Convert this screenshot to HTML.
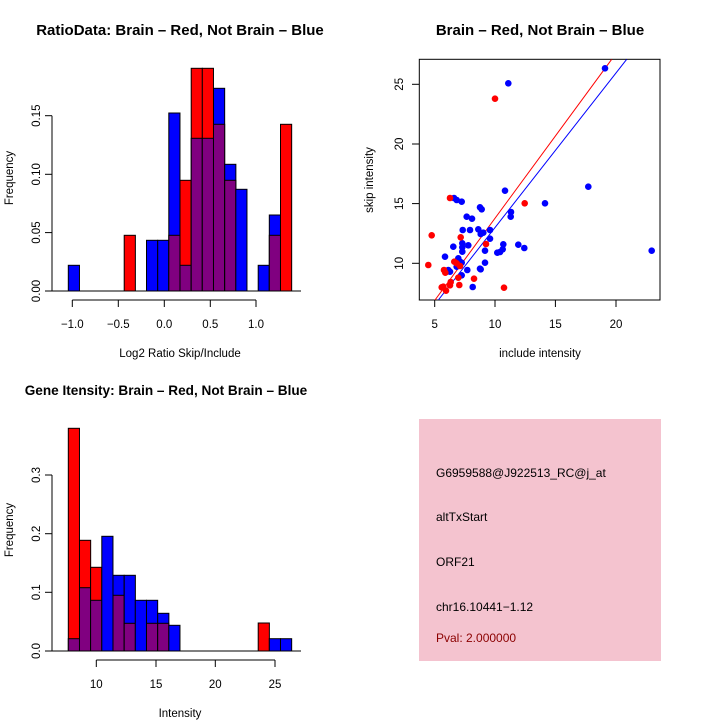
<!DOCTYPE html>
<html><head><meta charset="utf-8"><style>body{margin:0;background:#fff}svg{display:block}text{font-family:"Liberation Sans",sans-serif}</style></head><body>
<svg width="720" height="720" viewBox="0 0 720 720" xmlns="http://www.w3.org/2000/svg">
<rect width="720" height="720" fill="#fff"/>
<text x="180" y="35" font-size="15" font-weight="bold" text-anchor="middle">RatioData: Brain – Red, Not Brain – Blue</text>
<text x="540" y="35" font-size="15" font-weight="bold" text-anchor="middle">Brain – Red, Not Brain – Blue</text>
<text x="166" y="395" font-size="13.6" font-weight="bold" text-anchor="middle">Gene Itensity: Brain – Red, Not Brain – Blue</text>

<g stroke="#000" stroke-width="1">
<rect x="68.3" y="265.3" width="11.17" height="25.7" fill="#00f"/>
<rect x="124.2" y="235.3" width="11.17" height="55.7" fill="#f00"/>
<rect x="146.5" y="240.3" width="11.17" height="50.7" fill="#00f"/>
<rect x="157.7" y="240.3" width="11.17" height="50.7" fill="#00f"/>
<rect x="168.8" y="113" width="11.17" height="178" fill="#00f"/>
<rect x="168.8" y="235.3" width="11.17" height="55.7" fill="#800080"/>
<rect x="180" y="180.3" width="11.17" height="110.7" fill="#f00"/>
<rect x="180" y="265.3" width="11.17" height="25.7" fill="#800080"/>
<rect x="191.2" y="68.3" width="11.17" height="222.7" fill="#f00"/>
<rect x="191.2" y="138.3" width="11.17" height="152.7" fill="#800080"/>
<rect x="202.3" y="68.3" width="11.17" height="222.7" fill="#f00"/>
<rect x="202.3" y="138.3" width="11.17" height="152.7" fill="#800080"/>
<rect x="213.5" y="88.3" width="11.17" height="202.7" fill="#00f"/>
<rect x="213.5" y="124.3" width="11.17" height="166.7" fill="#800080"/>
<rect x="224.7" y="164.3" width="11.17" height="126.7" fill="#00f"/>
<rect x="224.7" y="180.3" width="11.17" height="110.7" fill="#800080"/>
<rect x="235.8" y="189.3" width="11.17" height="101.7" fill="#00f"/>
<rect x="258.2" y="265.3" width="11.17" height="25.7" fill="#00f"/>
<rect x="269.3" y="215" width="11.17" height="76" fill="#00f"/>
<rect x="269.3" y="235.3" width="11.17" height="55.7" fill="#800080"/>
<rect x="280.5" y="124.3" width="11.17" height="166.7" fill="#f00"/>
<line x1="52" y1="291" x2="301" y2="291"/>
<line x1="52" y1="115.7" x2="52" y2="291"/>
<line x1="45" y1="291" x2="52" y2="291"/><line x1="45" y1="232.6" x2="52" y2="232.6"/><line x1="45" y1="174.3" x2="52" y2="174.3"/><line x1="45" y1="115.7" x2="52" y2="115.7"/>
<line x1="72.3" y1="300" x2="256" y2="300"/>
<line x1="72.3" y1="300" x2="72.3" y2="307"/><line x1="118.3" y1="300" x2="118.3" y2="307"/><line x1="164.3" y1="300" x2="164.3" y2="307"/><line x1="210.3" y1="300" x2="210.3" y2="307"/><line x1="256" y1="300" x2="256" y2="307"/>
</g>
<g font-size="11.5" text-anchor="middle">
<text transform="translate(40,291) rotate(-90)">0.00</text>
<text transform="translate(40,232.6) rotate(-90)">0.05</text>
<text transform="translate(40,174.3) rotate(-90)">0.10</text>
<text transform="translate(40,115.7) rotate(-90)">0.15</text>
<text x="72.3" y="328">−1.0</text><text x="118.3" y="328">−0.5</text><text x="164.3" y="328">0.0</text><text x="210.3" y="328">0.5</text><text x="256" y="328">1.0</text>
<text x="180" y="357">Log2 Ratio Skip/Include</text>
<text transform="translate(13,178) rotate(-90)">Frequency</text>
</g>

<rect x="419.3" y="59.3" width="240.7" height="240.7" fill="none" stroke="#000"/>
<g stroke="#000">
<line x1="434.7" y1="300" x2="434.7" y2="307"/><line x1="495" y1="300" x2="495" y2="307"/><line x1="555.4" y1="300" x2="555.4" y2="307"/><line x1="616" y1="300" x2="616" y2="307"/>
<line x1="412" y1="263.3" x2="419.3" y2="263.3"/><line x1="412" y1="203.6" x2="419.3" y2="203.6"/><line x1="412" y1="144" x2="419.3" y2="144"/><line x1="412" y1="84.3" x2="419.3" y2="84.3"/>
</g>
<g font-size="11.5" text-anchor="middle">
<text x="434.7" y="328">5</text><text x="495" y="328">10</text><text x="555.4" y="328">15</text><text x="616" y="328">20</text>
<text transform="translate(403,263.3) rotate(-90)">10</text>
<text transform="translate(403,203.6) rotate(-90)">15</text>
<text transform="translate(403,144) rotate(-90)">20</text>
<text transform="translate(403,84.3) rotate(-90)">25</text>
<text x="540" y="357">include intensity</text>
<text transform="translate(373,180) rotate(-90)">skip intensity</text>
</g>
<svg x="419.3" y="59.3" width="240.7" height="240.7" viewBox="419.3 59.3 240.7 240.7" overflow="hidden">
<line x1="435" y1="300" x2="611.7" y2="59.3" stroke="#f00" stroke-width="1"/>
<line x1="438.3" y1="300" x2="626.7" y2="59.3" stroke="#00f" stroke-width="1"/>
</svg>
<g fill="#00f">
<circle cx="605" cy="68.3" r="3.3"/><circle cx="508.3" cy="83.3" r="3.3"/><circle cx="651.7" cy="250.7" r="3.3"/><circle cx="588.3" cy="186.7" r="3.3"/><circle cx="545" cy="203.3" r="3.3"/><circle cx="505" cy="190.7" r="3.3"/><circle cx="511" cy="212" r="3.3"/><circle cx="510.7" cy="216.7" r="3.3"/><circle cx="524.3" cy="248" r="3.3"/><circle cx="518.3" cy="244.7" r="3.3"/><circle cx="503.3" cy="244.3" r="3.3"/><circle cx="502.7" cy="249.3" r="3.3"/><circle cx="500" cy="252" r="3.3"/><circle cx="497.3" cy="252.7" r="3.3"/><circle cx="490" cy="238.7" r="3.3"/><circle cx="490" cy="230" r="3.3"/><circle cx="485" cy="250.7" r="3.3"/><circle cx="485" cy="262.7" r="3.3"/><circle cx="480.7" cy="269.3" r="3.3"/><circle cx="480.7" cy="234" r="3.3"/><circle cx="483.3" cy="232.7" r="3.3"/><circle cx="478.3" cy="229.3" r="3.3"/><circle cx="480" cy="207.3" r="3.3"/><circle cx="481.7" cy="209.3" r="3.3"/><circle cx="472" cy="218.7" r="3.3"/><circle cx="466.7" cy="216.7" r="3.3"/><circle cx="470" cy="230" r="3.3"/><circle cx="462.7" cy="230" r="3.3"/><circle cx="468.3" cy="245.3" r="3.3"/><circle cx="462.3" cy="243.3" r="3.3"/><circle cx="462.3" cy="247.3" r="3.3"/><circle cx="462.3" cy="251.7" r="3.3"/><circle cx="461.7" cy="201.7" r="3.3"/><circle cx="456.7" cy="200" r="3.3"/><circle cx="454" cy="198" r="3.3"/><circle cx="453.3" cy="246.7" r="3.3"/><circle cx="445" cy="256.7" r="3.3"/><circle cx="448.3" cy="270" r="3.3"/><circle cx="450" cy="271.7" r="3.3"/><circle cx="446.7" cy="271.7" r="3.3"/><circle cx="458.3" cy="258.3" r="3.3"/><circle cx="460" cy="261.7" r="3.3"/><circle cx="461.7" cy="275.3" r="3.3"/><circle cx="456.7" cy="266.7" r="3.3"/><circle cx="467.3" cy="270" r="3.3"/><circle cx="472.7" cy="287" r="3.3"/><circle cx="480" cy="268.7" r="3.3"/><circle cx="461.7" cy="262.7" r="3.3"/>
</g>
<g fill="#f00">
<circle cx="495" cy="98.7" r="3.3"/><circle cx="524.7" cy="203.3" r="3.3"/><circle cx="431.7" cy="235.3" r="3.3"/><circle cx="428.3" cy="265" r="3.3"/><circle cx="450" cy="198" r="3.3"/><circle cx="460.7" cy="237.3" r="3.3"/><circle cx="486" cy="244" r="3.3"/><circle cx="454.3" cy="261.7" r="3.3"/><circle cx="456.7" cy="263.3" r="3.3"/><circle cx="444" cy="270" r="3.3"/><circle cx="445.3" cy="272.7" r="3.3"/><circle cx="450.7" cy="282" r="3.3"/><circle cx="450" cy="285.3" r="3.3"/><circle cx="443.3" cy="286.7" r="3.3"/><circle cx="441.7" cy="287.3" r="3.3"/><circle cx="446" cy="290.7" r="3.3"/><circle cx="459.3" cy="285" r="3.3"/><circle cx="458.3" cy="277.7" r="3.3"/><circle cx="474" cy="278.7" r="3.3"/><circle cx="504" cy="287.7" r="3.3"/><circle cx="460" cy="266" r="3.3"/>
</g>

<g stroke="#000" stroke-width="1">
<rect x="68.3" y="428.3" width="11.17" height="222.7" fill="#f00"/>
<rect x="68.3" y="638.7" width="11.17" height="12.3" fill="#800080"/>
<rect x="79.5" y="540.3" width="11.17" height="110.7" fill="#f00"/>
<rect x="79.5" y="587.7" width="11.17" height="63.3" fill="#800080"/>
<rect x="90.6" y="567.3" width="11.17" height="83.7" fill="#f00"/>
<rect x="90.6" y="600.3" width="11.17" height="50.7" fill="#800080"/>
<rect x="101.8" y="536.3" width="11.17" height="114.7" fill="#00f"/>
<rect x="113" y="575.3" width="11.17" height="75.7" fill="#00f"/>
<rect x="113" y="595.3" width="11.17" height="55.7" fill="#800080"/>
<rect x="124.2" y="575.3" width="11.17" height="75.7" fill="#00f"/>
<rect x="124.2" y="623.3" width="11.17" height="27.7" fill="#800080"/>
<rect x="135.3" y="600.3" width="11.17" height="50.7" fill="#00f"/>
<rect x="146.5" y="600.3" width="11.17" height="50.7" fill="#00f"/>
<rect x="146.5" y="623.3" width="11.17" height="27.7" fill="#800080"/>
<rect x="157.7" y="613.3" width="11.17" height="37.7" fill="#00f"/>
<rect x="157.7" y="623.3" width="11.17" height="27.7" fill="#800080"/>
<rect x="168.8" y="625.3" width="11.17" height="25.7" fill="#00f"/>
<rect x="258.2" y="623" width="11.17" height="28" fill="#f00"/>
<rect x="269.3" y="638.7" width="11.17" height="12.3" fill="#00f"/>
<rect x="280.5" y="638.7" width="11.17" height="12.3" fill="#00f"/>
<line x1="52" y1="651" x2="301" y2="651"/>
<line x1="52" y1="475" x2="52" y2="651"/>
<line x1="45" y1="651" x2="52" y2="651"/><line x1="45" y1="592.3" x2="52" y2="592.3"/><line x1="45" y1="533.7" x2="52" y2="533.7"/><line x1="45" y1="475" x2="52" y2="475"/>
<line x1="96.3" y1="660" x2="275" y2="660"/>
<line x1="96.3" y1="660" x2="96.3" y2="667"/><line x1="156" y1="660" x2="156" y2="667"/><line x1="215.3" y1="660" x2="215.3" y2="667"/><line x1="275" y1="660" x2="275" y2="667"/>
</g>
<g font-size="11.5" text-anchor="middle">
<text transform="translate(40,651) rotate(-90)">0.0</text>
<text transform="translate(40,592.3) rotate(-90)">0.1</text>
<text transform="translate(40,533.7) rotate(-90)">0.2</text>
<text transform="translate(40,475) rotate(-90)">0.3</text>
<text x="96.3" y="688">10</text><text x="156" y="688">15</text><text x="215.3" y="688">20</text><text x="275" y="688">25</text>
<text x="180" y="717">Intensity</text>
<text transform="translate(13,530) rotate(-90)">Frequency</text>
</g>

<rect x="419" y="419" width="242" height="242" fill="#f4c3cf"/>
<g font-size="12">
<text x="436" y="477">G6959588@J922513_RC@j_at</text>
<text x="436" y="521">altTxStart</text>
<text x="436" y="566">ORF21</text>
<text x="436" y="611">chr16.10441−1.12</text>
<text x="436" y="642" fill="#8b0000">Pval: 2.000000</text>
</g>
</svg>
</body></html>
